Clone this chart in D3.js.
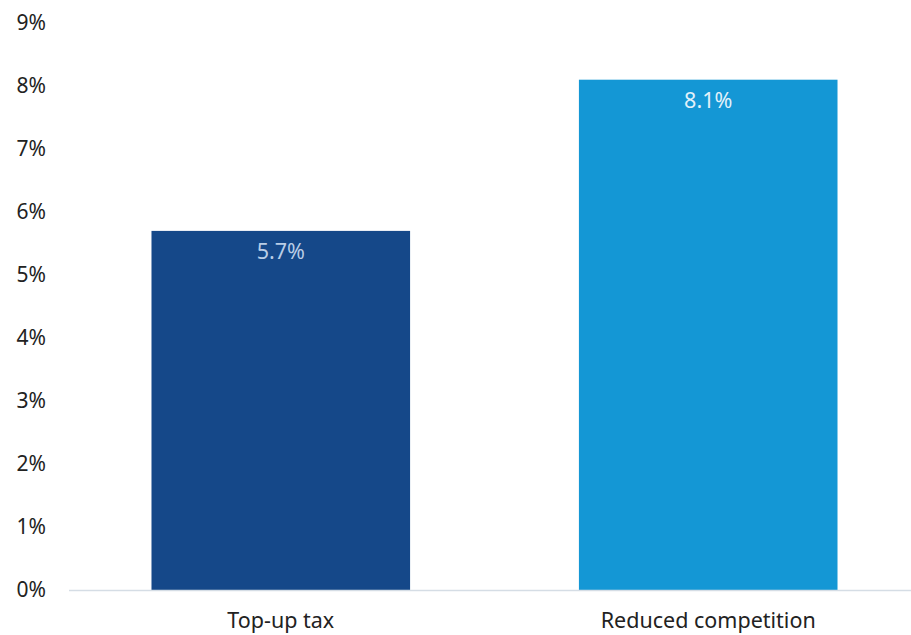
<!DOCTYPE html>
<html>
<head>
<meta charset="utf-8">
<script src="https://cdn.jsdelivr.net/npm/d3@7"></script>
<style>
  body { margin: 0; background: #fff; }
  svg text { font-family: "Noto Sans", Lato, sans-serif; }
</style>
</head>
<body>
<div id="chart"></div>
<script>
// data
const categories = ["Top-up tax", "Reduced competition"];
const values = [5.7, 8.1];
const barColors = ["#154889", "#1497d5"];
const labelColors = ["#b9cde6", "#e2f1fa"];
const yTicks = [0, 1, 2, 3, 4, 5, 6, 7, 8, 9];

const width = 911, height = 635;

const svg = d3.select("#chart")
  .append("svg")
    .attr("width", width)
    .attr("height", height);

// scales
const x = d3.scaleBand()
  .domain(categories)
  .range([69, 920])
  .paddingInner(0.395)
  .paddingOuter(0.193);

const y = d3.scaleLinear()
  .domain([0, 9])
  .range([590, 23]);

// y labels
svg.append("g")
  .selectAll("text")
  .data(yTicks)
  .join("text")
    .attr("x", 46)
    .attr("y", d => y(d))
    .attr("dy", "0.35em")
    .attr("text-anchor", "end")
    .attr("font-size", 21)
    .attr("fill", "#222")
    .text(d => d + "%");

// bars
svg.append("g")
  .selectAll("rect")
  .data(values)
  .join("rect")
    .attr("x", (d, i) => x(categories[i]))
    .attr("y", d => y(d))
    .attr("width", x.bandwidth())
    .attr("height", d => y(0) - y(d))
    .attr("fill", (d, i) => barColors[i]);

// baseline
svg.append("line")
  .attr("x1", 69)
  .attr("x2", width)
  .attr("y1", y(0) + 0.5)
  .attr("y2", y(0) + 0.5)
  .attr("stroke", "#d5dde5")
  .attr("stroke-width", 1.5);

// value labels
svg.append("g")
  .selectAll("text")
  .data(values)
  .join("text")
    .attr("x", (d, i) => x(categories[i]) + x.bandwidth() / 2)
    .attr("y", d => y(d) + 21)
    .attr("dy", "0.35em")
    .attr("text-anchor", "middle")
    .attr("font-size", 21.5)
    .attr("fill", (d, i) => labelColors[i])
    .text(d => d.toFixed(1) + "%");

// x labels
svg.append("g")
  .selectAll("text")
  .data(categories)
  .join("text")
    .attr("x", d => x(d) + x.bandwidth() / 2)
    .attr("y", 620)
    .attr("dy", "0.35em")
    .attr("text-anchor", "middle")
    .attr("font-size", 21.5)
    .attr("fill", "#222")
    .text(d => d);
</script>
</body>
</html>
